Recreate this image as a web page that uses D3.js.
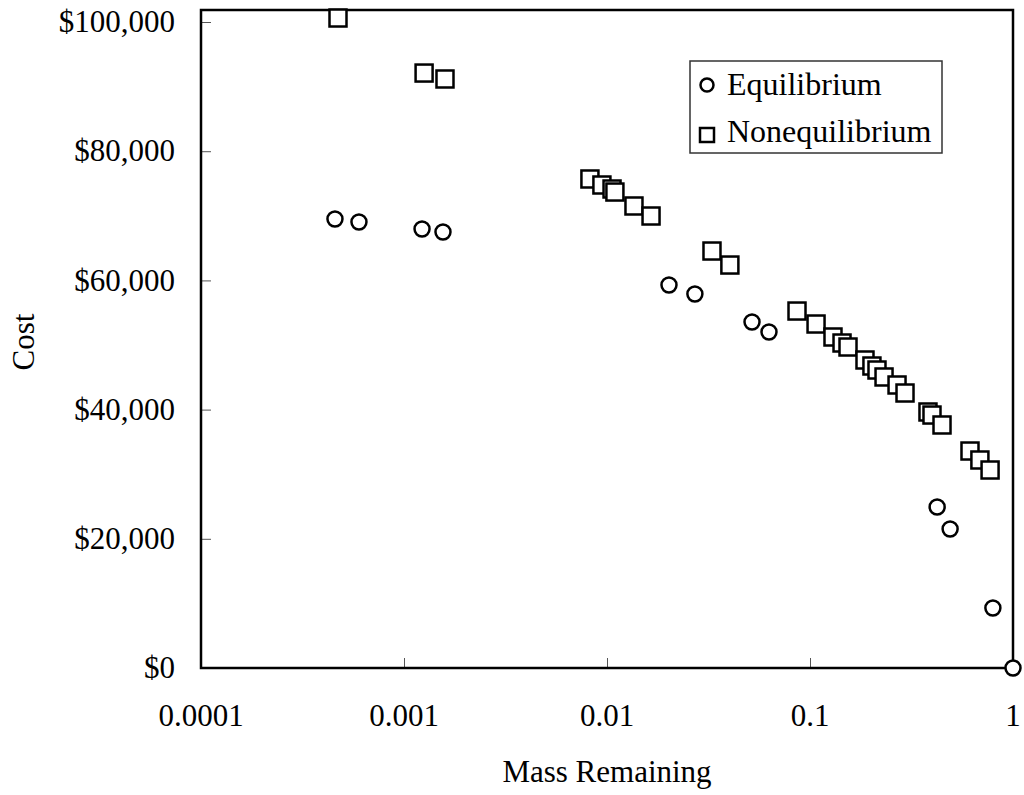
<!DOCTYPE html>
<html>
<head>
<meta charset="utf-8">
<script src="https://cdn.jsdelivr.net/npm/d3@7"></script>
<style>
  body { margin: 0; background: #fff; }
  text { font-family: "Liberation Serif", "Times New Roman", serif; fill: #000; }
</style>
</head>
<body>
<div class="chart"></div>
<script>
// data
var eqMass = [0.000457, 0.000600, 0.001227, 0.001556, 0.0202, 0.0271, 0.0518, 0.0628, 0.423, 0.490, 0.796, 1.0];
var eqCost = [69500, 69040, 67960, 67490, 59290, 57890, 53560, 52010, 24920, 21520, 9290, 0];

var neqMass = [0.000473, 0.001256, 0.001592, 0.00824, 0.00944, 0.01059, 0.01094, 0.01358, 0.01648, 0.0329, 0.0403,
  0.0863, 0.1071, 0.1298, 0.1438, 0.1539, 0.1866, 0.2019, 0.2138, 0.2316, 0.2684, 0.2938, 0.3812, 0.3990, 0.4470,
  0.614, 0.687, 0.771];
var neqCost = [100620, 92100, 91180, 75700, 74770, 74150, 73680, 71520, 69970, 64550, 62380,
  55260, 53250, 51240, 50310, 49690, 47680, 46750, 46130, 45050, 43810, 42570, 39630, 39160, 37620,
  33590, 32200, 30650];

var xTicks = [0.0001, 0.001, 0.01, 0.1, 1];
var xTickLabels = ["0.0001", "0.001", "0.01", "0.1", "1"];
var yTicks = [0, 20000, 40000, 60000, 80000, 100000];
var seriesNames = ["Equilibrium", "Nonequilibrium"];

var svgWidth = 1024;
var svgHeight = 795;

var margin = { top: 10, right: 11, bottom: 127, left: 201 };
var width = svgWidth - margin.left - margin.right;
var height = svgHeight - margin.top - margin.bottom;

var svg = d3.select(".chart")
  .append("svg")
  .attr("width", svgWidth)
  .attr("height", svgHeight);

var chartGroup = svg.append("g")
  .attr("transform", `translate(${margin.left}, ${margin.top})`);

// scales
var xScale = d3.scaleLog()
  .domain([0.0001, 1])
  .range([0, width]);

var yScale = d3.scaleLinear()
  .domain([0, 101860])
  .range([height, 0]);

// inward ticks
var bottomAxis = d3.axisTop(xScale)
  .tickValues(xTicks)
  .tickSize(10)
  .tickFormat("");

var leftAxis = d3.axisRight(yScale)
  .tickValues(yTicks)
  .tickSize(10)
  .tickFormat("");

chartGroup.append("g")
  .attr("transform", `translate(0, ${height})`)
  .call(bottomAxis)
  .call(g => g.select(".domain").remove())
  .call(g => g.selectAll("line").attr("stroke", "#555").attr("stroke-width", 1));

chartGroup.append("g")
  .call(leftAxis)
  .call(g => g.select(".domain").remove())
  .call(g => g.selectAll("line").attr("stroke", "#555").attr("stroke-width", 1));

// tick labels
chartGroup.selectAll(".xlabel")
  .data(xTicks)
  .enter()
  .append("text")
  .attr("class", "xlabel")
  .attr("x", d => xScale(d))
  .attr("y", height + 58)
  .attr("text-anchor", "middle")
  .attr("font-size", 31)
  .text((d, i) => xTickLabels[i]);

chartGroup.selectAll(".ylabel")
  .data(yTicks)
  .enter()
  .append("text")
  .attr("class", "ylabel")
  .attr("x", -26)
  .attr("y", d => yScale(d))
  .attr("dy", "0.33em")
  .attr("text-anchor", "end")
  .attr("font-size", 31)
  .text(d => "$" + d3.format(",")(d));

// plot frame
chartGroup.append("rect")
  .attr("x", 0)
  .attr("y", 0)
  .attr("width", width)
  .attr("height", height)
  .attr("fill", "none")
  .attr("stroke", "#000")
  .attr("stroke-width", 2.5);

// axis titles
svg.append("text")
  .attr("x", margin.left + width / 2)
  .attr("y", 782)
  .attr("text-anchor", "middle")
  .attr("font-size", 31)
  .text("Mass Remaining");

svg.append("text")
  .attr("transform", "rotate(-90)")
  .attr("x", -342)
  .attr("y", 34)
  .attr("text-anchor", "middle")
  .attr("font-size", 31)
  .text("Cost");

// nonequilibrium squares
var sq = 17;
chartGroup.selectAll(".neq")
  .data(neqMass)
  .enter()
  .append("rect")
  .attr("class", "neq")
  .attr("x", d => xScale(d) - sq / 2)
  .attr("y", (d, i) => yScale(neqCost[i]) - sq / 2)
  .attr("width", sq)
  .attr("height", sq)
  .attr("fill", "#fff")
  .attr("stroke", "#000")
  .attr("stroke-width", 2.5);

// equilibrium circles
chartGroup.selectAll(".eq")
  .data(eqMass)
  .enter()
  .append("circle")
  .attr("class", "eq")
  .attr("cx", d => xScale(d))
  .attr("cy", (d, i) => yScale(eqCost[i]))
  .attr("r", 7.5)
  .attr("fill", "#fff")
  .attr("stroke", "#000")
  .attr("stroke-width", 2.5);

// legend
var legend = svg.append("g");

legend.append("rect")
  .attr("x", 690)
  .attr("y", 61)
  .attr("width", 252)
  .attr("height", 92)
  .attr("fill", "#fff")
  .attr("stroke", "#333")
  .attr("stroke-width", 1.5);

legend.append("circle")
  .attr("cx", 707)
  .attr("cy", 85)
  .attr("r", 6.5)
  .attr("fill", "#fff")
  .attr("stroke", "#000")
  .attr("stroke-width", 2.5);

legend.append("rect")
  .attr("x", 700)
  .attr("y", 128)
  .attr("width", 14)
  .attr("height", 14)
  .attr("fill", "#fff")
  .attr("stroke", "#000")
  .attr("stroke-width", 2.5);

legend.selectAll(".legtext")
  .data(seriesNames)
  .enter()
  .append("text")
  .attr("class", "legtext")
  .attr("x", 727)
  .attr("y", (d, i) => 95 + i * 47)
  .attr("font-size", 32)
  .text(d => d);
</script>
</body>
</html>
